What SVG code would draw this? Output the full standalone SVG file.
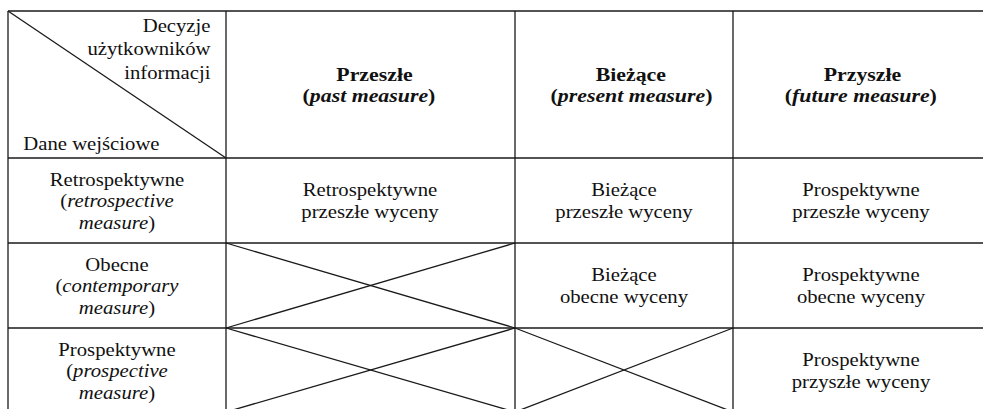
<svg xmlns="http://www.w3.org/2000/svg" width="983" height="409" viewBox="0 0 983 409">
<style>
.ln{stroke:#1a1a1a;stroke-width:1.3;fill:none}
.t{font-family:"Liberation Serif","Times New Roman",serif;font-size:18.5px;fill:#111}
.c{text-anchor:middle}
.e{text-anchor:end}
.h{font-size:19.5px;font-weight:bold}
.i{font-style:italic}
</style>
<rect x="0" y="0" width="983" height="409" fill="#fff"/>
<g id="grid">
<line class="ln" x1="8" y1="11" x2="990" y2="11"/>
<line class="ln" x1="8" y1="158" x2="990" y2="158"/>
<line class="ln" x1="8" y1="243" x2="990" y2="243"/>
<line class="ln" x1="8" y1="328" x2="990" y2="328"/>
<line class="ln" x1="8" y1="11" x2="8" y2="415"/>
<line class="ln" x1="226" y1="11" x2="226" y2="415"/>
<line class="ln" x1="515" y1="11" x2="515" y2="415"/>
<line class="ln" x1="733" y1="11" x2="733" y2="415"/>
</g>
<g id="corner">
<line class="ln" x1="8" y1="11" x2="226" y2="158"/>
<g transform="scale(1.12 1)">
<text class="t e" x="187.95" y="32">Decyzje</text>
<text class="t e" x="187.95" y="55.5">użytkowników</text>
<text class="t e" x="187.95" y="79">informacji</text>
<text class="t" x="20.8" y="150.5">Dane wejściowe</text>
</g>
</g>
<g id="head-past" transform="scale(1.12 1)">
<text class="t c h" x="334.38" y="80.7">Przeszłe</text>
<text class="t c h" x="329.46" y="101.7">(<tspan class="i">past measure</tspan>)</text>
</g>
<g id="head-present" transform="scale(1.12 1)">
<text class="t c h" x="563.21" y="80.7">Bieżące</text>
<text class="t c h" x="563.84" y="101.7">(<tspan class="i">present measure</tspan>)</text>
</g>
<g id="head-future" transform="scale(1.12 1)">
<text class="t c h" x="770.09" y="80.7">Przyszłe</text>
<text class="t c h" x="768.57" y="101.7">(<tspan class="i">future measure</tspan>)</text>
</g>
<g id="row-retro" transform="scale(1.12 1)">
<text class="t c" x="104.46" y="186">Retrospektywne</text>
<text class="t c" x="104.46" y="207.5">(<tspan class="i">retrospective</tspan></text>
<text class="t c" x="104.46" y="229"><tspan class="i">measure</tspan>)</text>
</g>
<g id="row-obecne" transform="scale(1.12 1)">
<text class="t c" x="104.46" y="271">Obecne</text>
<text class="t c" x="104.46" y="292.5">(<tspan class="i">contemporary</tspan></text>
<text class="t c" x="104.46" y="314"><tspan class="i">measure</tspan>)</text>
</g>
<g id="row-prosp" transform="scale(1.12 1)">
<text class="t c" x="104.46" y="356">Prospektywne</text>
<text class="t c" x="104.46" y="377.5">(<tspan class="i">prospective</tspan></text>
<text class="t c" x="104.46" y="399"><tspan class="i">measure</tspan>)</text>
</g>
<g id="c-retro-past" transform="scale(1.12 1)">
<text class="t c" x="330.36" y="196">Retrospektywne</text>
<text class="t c" x="330.36" y="218">przeszłe wyceny</text>
</g>
<g id="c-retro-present" transform="scale(1.12 1)">
<text class="t c" x="557.14" y="196">Bieżące</text>
<text class="t c" x="557.14" y="218">przeszłe wyceny</text>
</g>
<g id="c-retro-future" transform="scale(1.12 1)">
<text class="t c" x="768.75" y="196">Prospektywne</text>
<text class="t c" x="768.75" y="218">przeszłe wyceny</text>
</g>
<g id="c-obecne-past">
<line class="ln" x1="226" y1="243" x2="515" y2="328"/>
<line class="ln" x1="226" y1="328" x2="515" y2="243"/>
</g>
<g id="c-obecne-present" transform="scale(1.12 1)">
<text class="t c" x="557.14" y="281">Bieżące</text>
<text class="t c" x="557.14" y="303">obecne wyceny</text>
</g>
<g id="c-obecne-future" transform="scale(1.12 1)">
<text class="t c" x="768.75" y="281">Prospektywne</text>
<text class="t c" x="768.75" y="303">obecne wyceny</text>
</g>
<g id="c-prosp-past">
<line class="ln" x1="226" y1="328" x2="515" y2="412"/>
<line class="ln" x1="226" y1="412" x2="515" y2="328"/>
</g>
<g id="c-prosp-present">
<line class="ln" x1="515" y1="328" x2="733" y2="412"/>
<line class="ln" x1="515" y1="412" x2="733" y2="328"/>
</g>
<g id="c-prosp-future" transform="scale(1.12 1)">
<text class="t c" x="768.75" y="366">Prospektywne</text>
<text class="t c" x="768.75" y="388">przyszłe wyceny</text>
</g>
</svg>
